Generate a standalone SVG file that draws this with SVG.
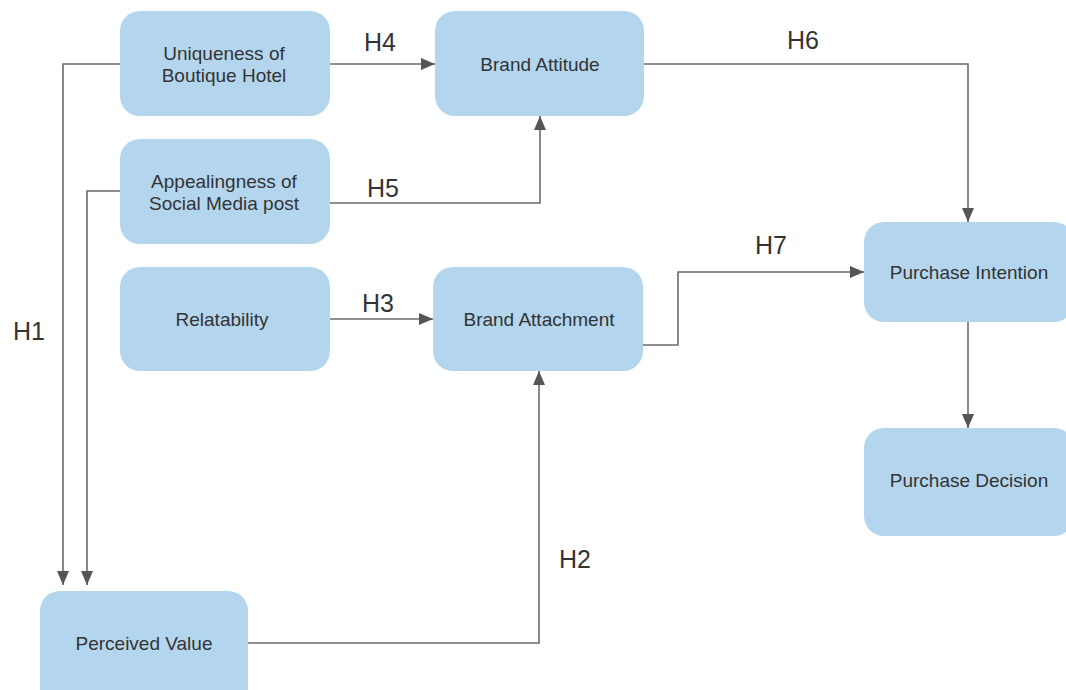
<svg xmlns="http://www.w3.org/2000/svg" width="1066" height="690" viewBox="0 0 1066 690">
<defs>
<style>
.box{fill:#b3d6ee;}
.t{font-family:"Liberation Sans",Arial,sans-serif;font-size:19px;fill:#333;text-anchor:middle;}
.lbl{font-family:"Liberation Sans",Arial,sans-serif;font-size:25px;fill:#333;text-anchor:middle;}
.c{fill:none;stroke:#6b6b6b;stroke-width:1.6;}
</style>
<marker id="ah" viewBox="0 0 14 12" refX="14" refY="6" markerWidth="14" markerHeight="12" markerUnits="userSpaceOnUse" orient="auto">
<path d="M0,0 L14,6 L0,12 Z" fill="#555"/>
</marker>
</defs>
<rect width="1066" height="690" fill="#fff"/>
<g id="connectors">
<path class="c" d="M330,64 H435" marker-end="url(#ah)"/>
<path class="c" d="M644,64 H968 V222" marker-end="url(#ah)"/>
<path class="c" d="M330,203 H540 V116" marker-end="url(#ah)"/>
<path class="c" d="M120,64 H63 V585" marker-end="url(#ah)"/>
<path class="c" d="M120,191 H87 V585" marker-end="url(#ah)"/>
<path class="c" d="M330,319 H433" marker-end="url(#ah)"/>
<path class="c" d="M643,345 H678 V272 H864" marker-end="url(#ah)"/>
<path class="c" d="M248,643 H539 V371" marker-end="url(#ah)"/>
<path class="c" d="M968,322 V428" marker-end="url(#ah)"/>
<text class="lbl" x="380" y="51">H4</text>
<text class="lbl" x="803" y="49">H6</text>
<text class="lbl" x="383" y="197">H5</text>
<text class="lbl" x="29" y="340">H1</text>
<text class="lbl" x="378" y="312">H3</text>
<text class="lbl" x="771" y="254">H7</text>
<text class="lbl" x="575" y="568">H2</text>
</g>
<g id="uniqueness"><rect class="box" x="120" y="11" width="210" height="105" rx="20"/><text class="t" x="224" y="60">Uniqueness of</text><text class="t" x="224" y="82">Boutique Hotel</text></g>
<g id="brand-attitude"><rect class="box" x="435" y="11" width="209" height="105" rx="20"/><text class="t" x="540" y="71">Brand Attitude</text></g>
<g id="appealingness"><rect class="box" x="120" y="139" width="210" height="105" rx="20"/><text class="t" x="224" y="188">Appealingness of</text><text class="t" x="224" y="210">Social Media post</text></g>
<g id="relatability"><rect class="box" x="120" y="267" width="210" height="104" rx="20"/><text class="t" x="222" y="326">Relatability</text></g>
<g id="brand-attachment"><rect class="box" x="433" y="267" width="210" height="104" rx="20"/><text class="t" x="539" y="326">Brand Attachment</text></g>
<g id="purchase-intention"><rect class="box" x="864" y="222" width="210" height="100" rx="20"/><text class="t" x="969" y="279">Purchase Intention</text></g>
<g id="purchase-decision"><rect class="box" x="864" y="428" width="210" height="108" rx="20"/><text class="t" x="969" y="487">Purchase Decision</text></g>
<g id="perceived-value"><rect class="box" x="40" y="591" width="208" height="120" rx="20"/><text class="t" x="144" y="650">Perceived Value</text></g>
</svg>
